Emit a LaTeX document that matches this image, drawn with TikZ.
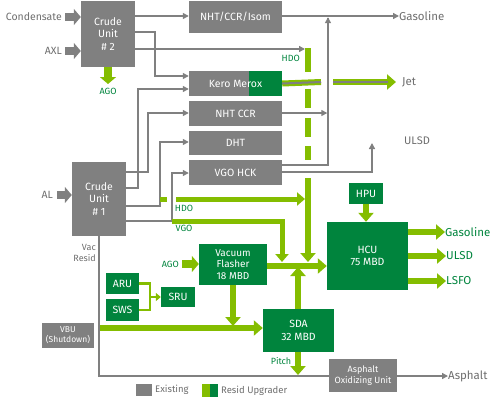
\documentclass[tikz,border=0pt]{standalone}
\usepackage{fontspec}
\setmainfont{Fira Sans}
\usetikzlibrary{arrows.meta}
\definecolor{gbox}{RGB}{128,128,128}
\definecolor{gtxt}{RGB}{110,110,110}
\definecolor{dg}{RGB}{0,132,61}
\definecolor{lg}{RGB}{132,189,0}
\tikzset{
  box/.style={fill=gbox, text=white, align=center, inner sep=0pt, font=\fontsize{10.5}{12.5}\selectfont},
  gbx/.style={fill=dg, text=white, align=center, inner sep=0pt, font=\fontsize{10.5}{12.5}\selectfont},
  garr/.style={draw=gbox, line width=1.4pt, -{Triangle[length=6pt,width=6pt]}},
  gln/.style={draw=gbox, line width=1.4pt},
  lgarr/.style={draw=lg, line width=6pt, -{Triangle[length=9pt,width=15pt]}},
  lgln/.style={draw=lg, line width=6pt},
  lgthin/.style={draw=lg, line width=5pt, -{Triangle[length=8pt,width=13pt]}},
  blk/.style={draw=gbox, line width=8pt, -{Triangle[length=7pt,width=16pt]}},
  blkg/.style={draw=lg, line width=8pt, -{Triangle[length=7pt,width=16pt]}},
  lab/.style={text=gtxt, inner sep=0pt, font=\fontsize{10.5}{12}\selectfont},
  glab/.style={text=dg, inner sep=0pt, font=\fontsize{9}{10}\selectfont},
  big/.style={inner sep=0pt, font=\fontsize{11.5}{13}\selectfont},
}
\begin{document}
\begin{tikzpicture}[x=1pt,y=-1pt]
\useasboundingbox (0,0) rectangle (500,402);
% boxes
\node[box, minimum width=54, minimum height=66] (cu2) at (108,34) {Crude\\Unit\\\# 2};
\node[box, minimum width=93, minimum height=32] (nht) at (235.5,17) {NHT/CCR/Isom};
\node[box, minimum width=93, minimum height=25] (kero) at (235.5,83.5) {};
\fill[dg] (249,71) rectangle (282,96);
\node[text=white, inner sep=0pt, font=\fontsize{10.5}{12}\selectfont] (kerot) at (kero.center) {Kero Merox};
\node[box, minimum width=93, minimum height=25] (nhtccr) at (235.5,113.5) {NHT CCR};
\node[box, minimum width=93, minimum height=24] (dht) at (235.5,143) {DHT};
\node[box, minimum width=93, minimum height=25] (vgo) at (235.5,172.5) {VGO HCK};
\node[box, minimum width=54, minimum height=74] (cu1) at (99,199) {Crude\\Unit\\\# 1};
\node[gbx, minimum width=68, minimum height=41, font=\fontsize{10}{11.5}\selectfont] (vf) at (233,264.5) {Vacuum\\Flasher\\18 MBD};
\node[gbx, minimum width=81, minimum height=68] (hcu) at (367.5,256) {HCU\\75 MBD};
\node[gbx, minimum width=34, minimum height=21] (hpu) at (366,193.5) {HPU};
\node[gbx, minimum width=71, minimum height=43] (sda) at (298.5,330.5) {SDA\\32 MBD};
\node[gbx, minimum width=33, minimum height=21] (aru) at (122.5,283.5) {ARU};
\node[gbx, minimum width=33, minimum height=22] (sws) at (122.5,310) {SWS};
\node[gbx, minimum width=34, minimum height=20] (sru) at (178,297) {SRU};
\node[box, minimum width=52, minimum height=25, font=\fontsize{8.5}{10}\selectfont] (vbu) at (68,335.5) {VBU\\(Shutdown)};
\node[box, minimum width=68, minimum height=33, font=\fontsize{9}{11}\selectfont] (aou) at (363,375.5) {Asphalt\\Oxidizing Unit};

% input labels
\node[lab, anchor=east] (tcond) at (62,17) {Condensate};
\node[lab, anchor=east] (taxl) at (62,51) {AXL};
\node[lab, anchor=east] (tal) at (53,195) {AL};
\coordinate (ccond) at (65,17);
\coordinate (caxl) at (65,51);
\coordinate (cal) at (57,195);
\draw[blk] (ccond) -- (cu2.west |- ccond);
\draw[blk] (caxl) -- (cu2.west |- caxl);
\draw[blk] (cal) -- (cu1.west |- cal);

% AGO from CU2
\coordinate (cago) at (108,84);
\draw[blkg] (cu2.south) -- (cago);
\node[glab] (tago) at (108,91) {AGO};

% gray connectors from crude 2
\draw[garr] (cu2.east |- 0,16) -- (nht.west |- 0,16);
\draw[garr] (cu2.east |- 0,32) -- (155,32) -- (155,76) -- (kero.west |- 0,76);
\coordinate (chdo) at (305,49);
\draw[garr] (cu2.east |- 0,49) -- (chdo);

% outputs right top
\node[lab, anchor=west, font=\fontsize{11.5}{13}\selectfont] (tgas1) at (399,16) {Gasoline};
\draw[garr] (nht.east |- 0,16) -- (tgas1.west);
\draw[gln] (vgo.east |- 0,165) -- (328,165) -- (328,17.5);
\draw[-{Triangle[length=6pt,width=6pt]}, gbox, line width=1.4pt] (328,40) -- (328,17.2);
\coordinate (cv) at (327.3,113);
\draw[garr] (nhtccr.east |- 0,113) -- (cv);
\node[lab, anchor=west, font=\fontsize{11}{13}\selectfont] (tulsd1) at (404,141) {ULSD};
\draw[garr] (vgo.east |- 0,172) -- (372,172) -- (372,143);

% crude 1 gray
\draw[garr] (cu1.east |- 0,172) -- (148,172) -- (148,113) -- (nhtccr.west |- 0,113);
\draw[garr] (cu1.east |- 0,188) -- (138,188) -- (138,89) -- (kero.west |- 0,89);
\draw[garr] (cu1.east |- 0,206) -- (160,206) -- (160,142) -- (dht.west |- 0,142);
\draw[garr] (cu1.east |- 0,221) -- (172,221) -- (172,173) -- (vgo.west |- 0,173);

% Kero to Jet
\draw[draw=lg, line width=6pt] (kero.east) -- (321,82);
\draw[draw=gbox, line width=2pt] (kero.east) -- (321,82);
\node[lab, anchor=west, font=\fontsize{11.5}{13}\selectfont] (tjet) at (402,82) {Jet};
\draw[lgarr] (333,82) -- (tjet.west -| 396,0);
\draw[draw=gbox, line width=2pt] (333,82) -- (388,82);

% HDO dashed vertical
\node[glab, anchor=east] (thdo1) at (300,58) {HDO};
\foreach \a/\b in {48/72, 89/108, 118/137, 146/160} {\draw[lgln, line width=6pt] (308,\a) -- (308,\b);}
\draw[lgln] (308,178) -- (308,255);
\draw[lgarr] (308,240) -- (308,262);

% HDO / VGO green
\draw[lgln, line width=5pt] (160,199) -- (167,199);
\draw[lgthin] (176,199) -- (305,199);
\node[glab] (thdo2) at (184,208) {HDO};
\node[glab] (tvgo2) at (184,228) {VGO};
\draw[lgln, line width=5pt] (172,221) -- (282,221) -- (282,250);
\draw[lgthin] (282,240) -- (282,262);

% main to HCU
\draw[lgarr] (vf.east |- 0,266) -- (hcu.west |- 0,266);
\draw[lgarr] (sda.north -| 298,0) -- (298,267);
\draw[lgarr] (hpu.south) -- (hcu.north -| hpu.south);

% AGO to VF
\node[glab, anchor=east] (tago2) at (179,264) {AGO};
\draw[blkg] (182,264) -- (vf.west |- 0,264);

% VF down
\draw[lgarr] (vf.south) -- (233,326);

% Outputs HCU
\node[big, text=dg, anchor=west] (tgas2) at (445,232) {Gasoline};
\node[big, text=dg, anchor=west] (tulsd2) at (446,256) {ULSD};
\node[big, text=dg, anchor=west] (tlsfo) at (446,281) {LSFO};
\draw[lgarr] (hcu.east |- tgas2.west) -- (tgas2.west);
\draw[lgarr] (hcu.east |- tulsd2.west) -- (tulsd2.west);
\draw[lgarr] (hcu.east |- tlsfo.west) -- (tlsfo.west);

% ARU/SWS -> SRU
\draw[draw=lg, line width=2.5pt] (aru.east) -- (150,283.5) -- (150,310) -- (sws.east);
\draw[draw=lg, line width=2.5pt, -{Triangle[length=5pt,width=8pt]}] (150,297) -- (sru.west);

% Vac resid gray & asphalt
\node[text=gtxt, inner sep=0pt, align=right, anchor=east, font=\fontsize{9}{11}\selectfont] (tvac) at (96,253) {Vac\\Resid};
\draw[gln] (cu1.south) -- (99,376) -- (aou.west |- 0,376);
\node[lab, anchor=west, font=\fontsize{11.5}{13}\selectfont] (tasph) at (448,376) {Asphalt};
\draw[garr] (aou.east |- 0,376) -- (tasph.west);

% VBU line
\draw[lgarr] (100,328) -- (sda.west |- 0,328);

% Pitch
\draw[lgarr] (sda.south -| 298,0) -- (298,375);
\node[glab] (tpitch) at (281,361) {Pitch};

% legend
\fill[gbox] (136,384) rectangle (152,396);
\node[lab, anchor=west, font=\fontsize{9.5}{11}\selectfont] (tex) at (155,390) {Existing};
\fill[lg] (202,384) rectangle (210,397);
\fill[dg] (210,384) rectangle (218,397);
\node[lab, anchor=west, font=\fontsize{9.5}{11}\selectfont] (tres) at (221,391) {Resid Upgrader};
\end{tikzpicture}
\end{document}
